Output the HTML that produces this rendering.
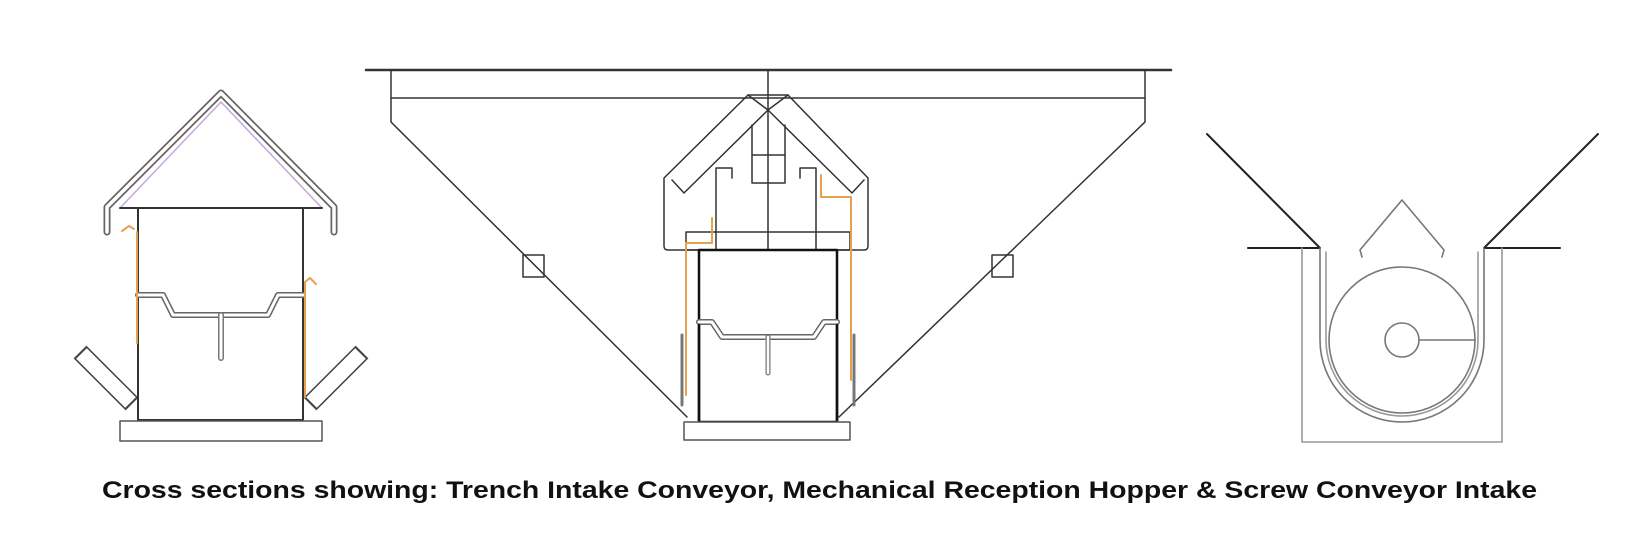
<!DOCTYPE html>
<html><head><meta charset="utf-8"><style>html,body{margin:0;padding:0;background:#fff}svg{display:block}</style></head>
<body>
<svg width="1627" height="551" viewBox="0 0 1627 551" xmlns="http://www.w3.org/2000/svg" fill="none" stroke-linecap="round" stroke-linejoin="round">
<!-- LEFT: Trench intake -->
<g>
  <path d="M107,232 L107,207 L221,93 L334,207 L334,232" stroke="#666" stroke-width="7"/>
  <path d="M107,232 L107,207 L221,93 L334,207 L334,232" stroke="#fff" stroke-width="3.5"/>
  <path d="M120,208 L221,102 L322,208" stroke="#c9a6d8" stroke-width="1.5"/>
  <line x1="120" y1="208" x2="322" y2="208" stroke="#333" stroke-width="2"/>
  <rect x="138" y="208" width="165" height="212" stroke="#333" stroke-width="2"/>
  <path d="M138,295 L163,295 L173,315 L268,315 L278,295 L303,295" stroke="#666" stroke-width="6"/>
  <path d="M138,295 L163,295 L173,315 L268,315 L278,295 L303,295" stroke="#fff" stroke-width="3"/>
  <path d="M221,315 L221,358" stroke="#777" stroke-width="6"/>
  <path d="M221,315 L221,358" stroke="#fff" stroke-width="3"/>
  <path d="M80,352 L132,404" stroke="#444" stroke-width="18" stroke-linecap="butt"/>
  <path d="M81.5,353.5 L130.5,402.5" stroke="#fff" stroke-width="15" stroke-linecap="butt"/>
  <path d="M362,352 L310,404" stroke="#444" stroke-width="18" stroke-linecap="butt"/>
  <path d="M360.5,353.5 L311.5,402.5" stroke="#fff" stroke-width="15" stroke-linecap="butt"/>
  <line x1="138" y1="330" x2="138" y2="420" stroke="#333" stroke-width="2"/>
  <line x1="303" y1="330" x2="303" y2="420" stroke="#333" stroke-width="2"/>
  <rect x="120" y="421" width="202" height="20" stroke="#555" stroke-width="1.5" fill="#fff"/>
  <path d="M122,231 L129,226 L134,229 M137,232 L137,343" stroke="#e8a050" stroke-width="2"/>
  <path d="M305,282 L310,278 L316,284 M305,282 L305,397" stroke="#e8a050" stroke-width="2"/>
</g>
<!-- MIDDLE: Mechanical reception hopper -->
<g stroke="#333" stroke-width="1.5">
  <line x1="366" y1="70" x2="1171" y2="70" stroke-width="2.5"/>
  <path d="M391,70 L391,122 L687,417 M1145,70 L1145,122 L839,417"/>
  <line x1="391" y1="98" x2="1145" y2="98"/>
  <line x1="768" y1="70" x2="768" y2="250"/>
  <rect x="523" y="255" width="21" height="22"/>
  <rect x="992" y="255" width="21" height="22"/>
  <path d="M748,95 L664,178 L664,246 Q664,250 668,250 L864,250 Q868,250 868,246 L868,178 L788,95 Z"/>
  <path d="M768,110 L684,193 L672,180 M768,110 L852,193 L864,180"/>
  <path d="M748,95 L768,110 L788,95"/>
  <rect x="752" y="155" width="33" height="28"/>
  <path d="M752,155 L752,125 M785,155 L785,125"/>
  <path d="M716,250 L716,168 L732,168 L732,178 M816,250 L816,168 L800,168 L800,178"/>
  <rect x="686" y="232" width="164" height="18"/>
  <rect x="699" y="250" width="138" height="172" stroke="#111" stroke-width="2.5"/>
  <path d="M699,322 L712,322 L722,337 L814,337 L824,322 L837,322" stroke="#666" stroke-width="6"/>
  <path d="M699,322 L712,322 L722,337 L814,337 L824,322 L837,322" stroke="#fff" stroke-width="3"/>
  <path d="M768,337 L768,373" stroke="#777" stroke-width="5"/>
  <path d="M768,337 L768,373" stroke="#fff" stroke-width="2.5"/>
  <path d="M682,335 L682,405 M854,335 L854,405" stroke="#777" stroke-width="3"/>
  <line x1="699" y1="325" x2="699" y2="422" stroke="#111" stroke-width="2.5"/>
  <line x1="837" y1="325" x2="837" y2="422" stroke="#111" stroke-width="2.5"/>
  <rect x="684" y="422" width="166" height="18" stroke="#555" fill="#fff"/>
  <path d="M686,395 L686,243 L712,243 L712,218 M821,175 L821,197 L851,197 L851,380" stroke="#e8a050" stroke-width="2"/>
</g>
<!-- RIGHT: Screw conveyor intake -->
<g stroke="#555" stroke-width="1.6">
  <path d="M1207,134 L1320,248 L1248,248" stroke="#222" stroke-width="2"/>
  <path d="M1598,134 L1484,248 L1560,248" stroke="#222" stroke-width="2"/>
  <path d="M1302,248 L1302,442 L1502,442 L1502,248" stroke="#999"/>
  <path d="M1320,248 L1320,340 A82,82 0 0 0 1484,340 L1484,248" stroke="#777"/>
  <path d="M1326,252 L1326,340 A76,76 0 0 0 1478,340 L1478,252" stroke="#999"/>
  <circle cx="1402" cy="340" r="73" stroke="#777"/>
  <circle cx="1402" cy="340" r="17" stroke="#777"/>
  <line x1="1419" y1="340" x2="1475" y2="340" stroke="#777"/>
  <path d="M1362,257 L1360,250 L1402,200 L1444,250 L1442,257" stroke="#777"/>
</g>
<text x="102" y="498" font-family="Liberation Sans, DejaVu Sans, sans-serif" font-weight="bold" font-size="24" fill="#111" textLength="1435" lengthAdjust="spacingAndGlyphs">Cross sections showing: Trench Intake Conveyor, Mechanical Reception Hopper &amp; Screw Conveyor Intake</text>
</svg>
</body></html>
